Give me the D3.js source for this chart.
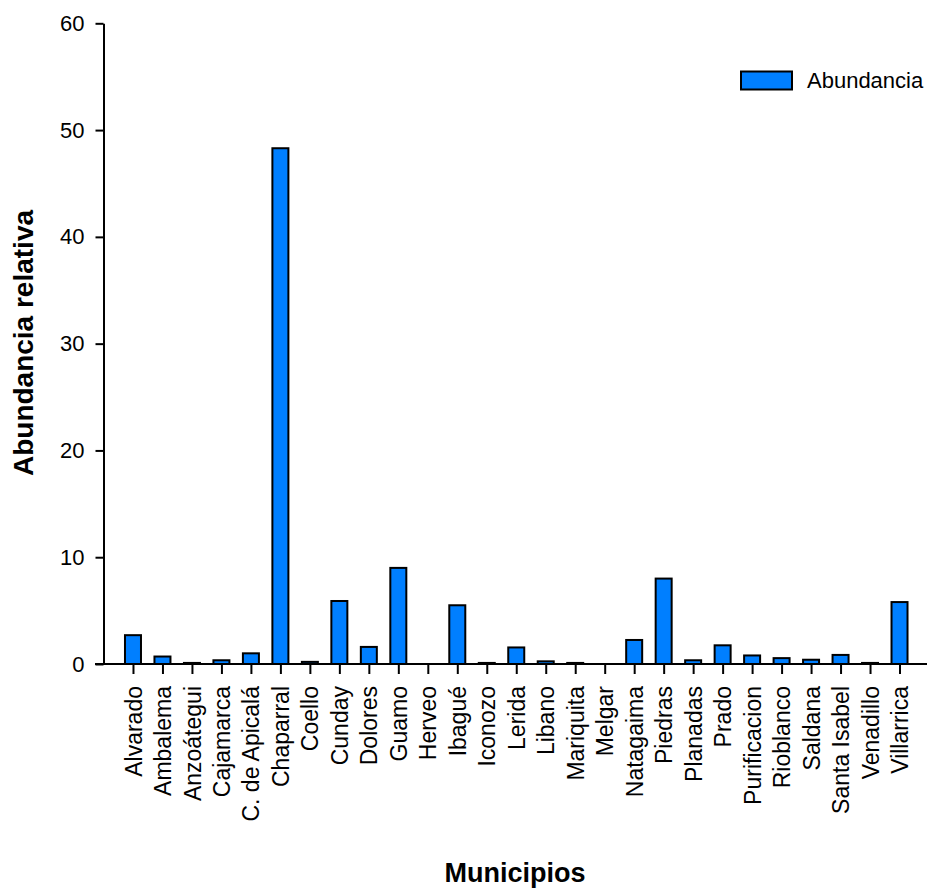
<!DOCTYPE html>
<html>
<head>
<meta charset="utf-8">
<script src="https://cdn.jsdelivr.net/npm/d3@7"></script>
<style>
  body { margin: 0; background: #fff; }
  text { font-family: "Liberation Sans", Arial, sans-serif; fill: #000; }
</style>
</head>
<body>
<div id="chart"></div>
<script>
const w = 927;
const h = 888;

// data
const municipios = ["Alvarado", "Ambalema", "Anzoátegui", "Cajamarca", "C. de Apicalá", "Chaparral",
  "Coello", "Cunday", "Dolores", "Guamo", "Herveo", "Ibagué", "Iconozo", "Lerida", "Libano",
  "Mariquita", "Melgar", "Natagaima", "Piedras", "Planadas", "Prado", "Purificacion", "Rioblanco",
  "Saldana", "Santa Isabel", "Venadillo", "Villarrica"];
const abundancia = [2.7, 0.7, 0.1, 0.35, 1.0, 48.3, 0.2, 5.9, 1.6, 9.0, 0, 5.5, 0.1, 1.55, 0.25,
  0.1, 0, 2.25, 8.0, 0.35, 1.75, 0.8, 0.55, 0.4, 0.85, 0.1, 5.8];
const yTicks = [0, 10, 20, 30, 40, 50, 60];
const serieName = "Abundancia";

const data = municipios.map((m, i) => ({name: m, value: abundancia[i]}));

const xAxisX = 103.5;
const y0 = 664;
const yTop = 23.3;

const svg = d3.select("#chart")
  .append("svg")
  .attr("width", w)
  .attr("height", h);

const x = d3.scalePoint()
  .domain(municipios)
  .range([xAxisX, 929])
  .padding(1);

const y = d3.scaleLinear()
  .domain([0, 60])
  .range([y0, yTop]);

const barW = 16;

//Bars
svg.selectAll(".bar")
  .data(data.filter(d => d.value > 0))
  .enter()
  .append("rect")
  .attr("class", "bar")
  .attr("x", d => x(d.name) - barW / 2)
  .attr("y", d => y(d.value))
  .attr("width", barW)
  .attr("height", d => y(0) - y(d.value))
  .attr("fill", "#007fff")
  .attr("stroke", "#000")
  .attr("stroke-width", 2);

//Y axis
const yAxis = svg.append("g")
  .attr("transform", `translate(${xAxisX},0)`)
  .call(d3.axisLeft(y).tickValues(yTicks).tickSize(8).tickPadding(11).tickSizeOuter(0));
yAxis.select(".domain").attr("stroke", "#000").attr("stroke-width", 2);
yAxis.selectAll(".tick line").attr("stroke", "#000").attr("stroke-width", 2);
yAxis.selectAll(".tick text")
  .style("font-family", '"Liberation Sans", Arial, sans-serif')
  .style("font-size", "22px")
  .attr("fill", "#000");

//X axis
const xAxis = svg.append("g")
  .attr("transform", `translate(0,${y0})`)
  .call(d3.axisBottom(x).tickSize(10).tickSizeOuter(0));
xAxis.select(".domain").remove();
xAxis.append("line")
  .attr("x1", 95).attr("x2", w)
  .attr("stroke", "#000").attr("stroke-width", 2);
xAxis.selectAll(".tick line").attr("stroke", "#000").attr("stroke-width", 2);
xAxis.selectAll(".tick text")
  .style("font-family", '"Liberation Sans", Arial, sans-serif')
  .style("font-size", "23px")
  .attr("fill", "#000")
  .attr("text-anchor", "end")
  .attr("dy", "0.35em")
  .attr("transform", "translate(0,22) rotate(-90)")
  .attr("x", 0)
  .attr("y", 0);

//Axis titles
svg.append("text")
  .attr("transform", `translate(33,343) rotate(-90)`)
  .attr("text-anchor", "middle")
  .style("font-size", "28px")
  .style("font-weight", "bold")
  .text("Abundancia relativa");

svg.append("text")
  .attr("x", 515)
  .attr("y", 882)
  .attr("text-anchor", "middle")
  .style("font-size", "27px")
  .style("font-weight", "bold")
  .text("Municipios");

//Legend
const legend = svg.append("g").attr("id", "legend");
legend.append("rect")
  .attr("x", 741).attr("y", 71.5)
  .attr("width", 51).attr("height", 18)
  .attr("fill", "#007fff")
  .attr("stroke", "#000")
  .attr("stroke-width", 2);
legend.append("text")
  .attr("x", 807).attr("y", 88)
  .style("font-size", "22px")
  .text(serieName);
</script>
</body>
</html>
